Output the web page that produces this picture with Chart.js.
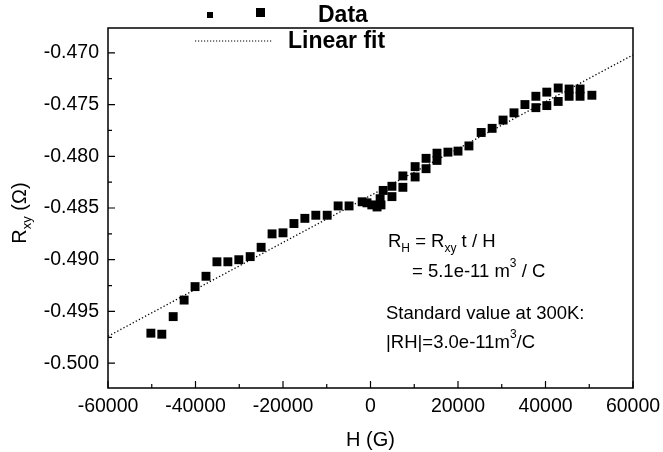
<!DOCTYPE html>
<html>
<head>
<meta charset="utf-8">
<script src="https://cdn.jsdelivr.net/npm/chart.js@4/dist/chart.umd.min.js"></script>
<style>
  html, body { margin: 0; padding: 0; background: #fff; }
  #wrap { width: 663px; height: 452px; }
</style>
</head>
<body>
<div id="wrap"><canvas id="graf"></canvas></div>
<script>
// data
const campoH = [
  -50200, -47700, -45100, -42600, -40100, -37600, -35100, -32600, -30100, -27500,
  -25000, -22500, -20000, -17500, -15000, -12500, -9900, -7400, -4900, -1900,
  -800, 300, 1500, 2400, 2200, 2900, 4900, 4900, 7400, 7400,
  10200, 10200, 12700, 12700, 15200, 15200, 17700, 20000, 22500, 25300,
  27800, 30300, 32800, 35300, 37800, 37800, 40300, 40300, 42900, 42900,
  45400, 45400, 47900, 47900, 50600
];
const rxy = [
  -0.4971, -0.4972, -0.4955, -0.4939, -0.4926, -0.4916, -0.4902, -0.4902, -0.4900, -0.4897,
  -0.4888, -0.4875, -0.4874, -0.4865, -0.4860, -0.4857, -0.4857, -0.4848, -0.4848, -0.4844,
  -0.4845, -0.4847, -0.4849, -0.4847, -0.4841, -0.4833, -0.4829, -0.4839, -0.4819, -0.4830,
  -0.4810, -0.4820, -0.4802, -0.4812, -0.4797, -0.4804, -0.4796, -0.4795, -0.4790, -0.4777,
  -0.4773, -0.4765, -0.4758, -0.4750, -0.4742, -0.4753, -0.4738, -0.4751, -0.4734, -0.4747,
  -0.4735, -0.4742, -0.4735, -0.4742, -0.4741
];
const fitH = [-60000, 60000];
const fitR = [-0.4974, -0.4702];

const xTicks = [-60000, -40000, -20000, 0, 20000, 40000, 60000];
const yTicks = [-0.500, -0.495, -0.490, -0.485, -0.480, -0.475, -0.470];

const fonte = "'Liberation Sans', Arial, Helvetica, sans-serif";

// ticks drawn inside + frame + y title + legend + notes
const pluginMoldura = {
  id: "moldura",
  afterDraw(chart) {
    const { ctx, chartArea: a, scales } = chart;
    const sx = scales.x, sy = scales.y;
    ctx.save();
    ctx.strokeStyle = "#000";
    ctx.lineWidth = 1.5;
    ctx.strokeRect(a.left, a.top, a.right - a.left, a.bottom - a.top);

    ctx.lineWidth = 1.2;
    ctx.beginPath();
    for (let v = -60000; v <= 60000; v += 10000) {
      const px = sx.getPixelForValue(v);
      const len = v % 20000 === 0 ? 7 : 4;
      ctx.moveTo(px, a.bottom);
      ctx.lineTo(px, a.bottom - len);
    }
    for (let i = 0; i <= 12; i++) {
      const v = -0.500 + i * 0.0025;
      const py = sy.getPixelForValue(v);
      const len = i % 2 === 0 ? 7 : 4;
      ctx.moveTo(a.left, py);
      ctx.lineTo(a.left + len, py);
    }
    ctx.stroke();

    ctx.fillStyle = "#000";

    // y title R_xy (Ω)
    ctx.save();
    ctx.translate(20, 213);
    ctx.rotate(-Math.PI / 2);
    ctx.textBaseline = "middle";
    ctx.font = "20px " + fonte;
    const w1 = ctx.measureText("R").width;
    ctx.font = "13px " + fonte;
    const w2 = ctx.measureText("xy").width;
    ctx.font = "20px " + fonte;
    const w3 = ctx.measureText(" (Ω)").width;
    let x0 = -(w1 + w2 + w3) / 2;
    ctx.fillText("R", x0, 0);
    ctx.font = "13px " + fonte;
    ctx.fillText("xy", x0 + w1, 7);
    ctx.font = "20px " + fonte;
    ctx.fillText(" (Ω)", x0 + w1 + w2, 0);
    ctx.restore();

    // legend
    ctx.fillRect(207, 12, 6, 6);
    ctx.fillRect(256, 8, 9, 9);
    ctx.font = "bold 23px " + fonte;
    ctx.textBaseline = "middle";
    ctx.fillText("Data", 318, 16);
    ctx.fillText("Linear fit", 288, 42);
    ctx.setLineDash([1.2, 1.8]);
    ctx.lineWidth = 1.2;
    ctx.beginPath();
    ctx.moveTo(195, 41);
    ctx.lineTo(273, 41);
    ctx.stroke();
    ctx.setLineDash([]);

    // notes
    const texto = (partes, x, y) => {
      let cx = x;
      partes.forEach(p => {
        const sub = p[1] === "sub", sup = p[1] === "sup";
        ctx.font = (sub || sup ? "12px " : "18.5px ") + fonte;
        ctx.fillText(p[0], cx, y + (sub ? 7 : sup ? -8 : 0));
        cx += ctx.measureText(p[0]).width;
      });
    };
    texto([["R"], ["H", "sub"], [" = R"], ["xy", "sub"], [" t / H"]], 388, 242);
    texto([["= 5.1e-11 m"], ["3", "sup"], [" / C"]], 412, 272);
    texto([["Standard value at 300K:"]], 386, 314);
    texto([["|RH|=3.0e-11m"], ["3", "sup"], ["/C"]], 386, 343);

    ctx.restore();
  }
};

const ctx = document.getElementById("graf").getContext("2d");

new Chart(ctx, {
  type: "scatter",
  data: {
    datasets: [
      {
        label: "Data",
        data: campoH.map((h, i) => ({ x: h, y: rxy[i] })),
        pointStyle: "rect",
        pointRadius: 6.3,
        pointBorderWidth: 0,
        backgroundColor: "#000",
        borderColor: "#000"
      },
      {
        label: "Linear fit",
        data: fitH.map((h, i) => ({ x: h, y: fitR[i] })),
        showLine: true,
        pointRadius: 0,
        borderColor: "#000",
        borderWidth: 1.3,
        borderDash: [1.3, 2.2]
      }
    ]
  },
  options: {
    responsive: true,
    maintainAspectRatio: false,
    animation: false,
    layout: { padding: { top: 28, right: 30, left: 0, bottom: 0 } },
    plugins: {
      legend: { display: false },
      tooltip: { enabled: false }
    },
    scales: {
      x: {
        type: "linear",
        min: -60000,
        max: 60000,
        afterFit: s => { s.height = 64; s.paddingLeft = 0; s.paddingRight = 0; },
        afterBuildTicks: s => { s.ticks = xTicks.map(v => ({ value: v })); },
        ticks: {
          color: "#000",
          padding: 7,
          font: { family: fonte, size: 19.5 },
          maxRotation: 0,
          callback: v => String(v)
        },
        grid: { display: false, drawTicks: false },
        border: { display: false },
        title: {
          display: true,
          text: "H (G)",
          color: "#000",
          font: { family: fonte, size: 20 },
          padding: { top: 7, bottom: 0 }
        }
      },
      y: {
        type: "linear",
        min: -0.5024,
        max: -0.4676,
        afterFit: s => { s.width = 108; s.paddingTop = 0; s.paddingBottom = 0; },
        afterBuildTicks: s => { s.ticks = yTicks.map(v => ({ value: v })); },
        ticks: {
          color: "#000",
          padding: 9,
          font: { family: fonte, size: 19.5 },
          callback: v => v.toFixed(3)
        },
        grid: { display: false, drawTicks: false },
        border: { display: false }
      }
    }
  },
  plugins: [pluginMoldura]
});
</script>
</body>
</html>
